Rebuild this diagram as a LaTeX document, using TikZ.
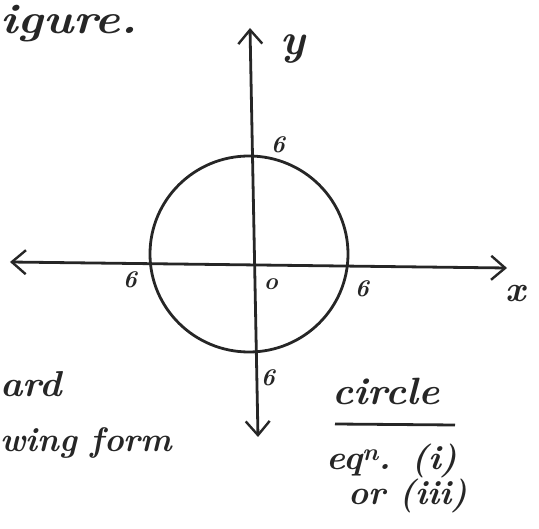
\documentclass[tikz,border=0pt]{standalone}
\usetikzlibrary{arrows.meta}
\tikzset{
  ink/.style={line width=2.8pt, draw=black!85},
  axisline/.style={ink, {Straight Barb[length=14pt,width=24pt,line width=2.4pt]}-{Straight Barb[length=14pt,width=24pt,line width=2.4pt]}},
  hand/.style={anchor=base west, inner sep=0pt, text=black!85, font=\bfseries\itshape},
  lbl/.style={anchor=center, inner sep=0pt, text=black!85, font=\fontsize{24}{24}\selectfont\bfseries\itshape}
}
\begin{document}
\begin{tikzpicture}[x=1pt,y=-1pt]
\useasboundingbox (0,0) rectangle (539,529);
% axes
\coordinate (ytop) at (250,28);
\coordinate (ybot) at (258,437);
\coordinate (xleft) at (10,262);
\coordinate (xright) at (507,268);
\draw[axisline] (ybot) -- (ytop);
\draw[axisline] (xleft) -- (xright);
% circle
\coordinate (c) at (249,254);
\draw[ink] (c) ellipse [x radius=99, y radius=98];
% axis labels
\node[hand, font=\fontsize{44}{44}\selectfont\bfseries\itshape] (ylab) at (280,55) {y};
\node[hand, font=\fontsize{36}{36}\selectfont\bfseries\itshape] (xlab) at (505,302) {x};
% intercept labels
\node[lbl] (t6) at (278,145) {6};
\node[lbl] (l6) at (130,280) {6};
\node[lbl] (o) at (271,284) {o};
\node[lbl] (r6) at (362,289) {6};
\node[lbl] (b6) at (268,378) {6};
% handwritten texts
\node[hand] (figure) at (0,34) {\scalebox{1.15}[1]{\fontsize{42}{42}\selectfont\bfseries\itshape igure.}};
\node[hand] (ard) at (0,397) {\scalebox{1.05}[1]{\fontsize{36}{36}\selectfont\bfseries\itshape ard}};
\node[hand] (wing) at (0,452) {\scalebox{0.98}[1]{\fontsize{34}{34}\selectfont\bfseries\itshape wing form}};
\node[hand] (circle) at (332,405) {\scalebox{1.05}[1]{\fontsize{38}{38}\selectfont\bfseries\itshape circle}};
\draw[ink] (335,424) -- (455,425);
\node[hand] (eq) at (326,470) {\scalebox{1.05}[1]{\fontsize{34}{34}\selectfont\bfseries\itshape eq\textsuperscript{n}. (i)}};
\node[hand] (or) at (348,505) {\scalebox{1.0}[1]{\fontsize{34}{34}\selectfont\bfseries\itshape or (iii)}};
\end{tikzpicture}
\end{document}
